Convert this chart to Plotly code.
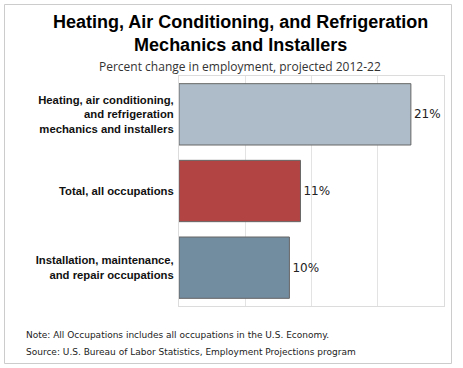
import plotly.graph_objects as go

categories = [
    "Heating, air conditioning,<br>and refrigeration<br>mechanics and installers",
    "Total, all occupations",
    "Installation, maintenance,<br>and repair occupations",
]
values = [21, 11, 10]
value_labels = ["21%", "11%", "10%"]
bar_colors = ["#adbcc8", "#b34444", "#728ca0"]

title_lines = ["Heating, Air Conditioning, and Refrigeration", "Mechanics and Installers"]
subtitle = "Percent change in employment, projected 2012-22"
notes = [
    "Note: All Occupations includes all occupations in the U.S. Economy.",
    "Source: U.S. Bureau of Labor Statistics, Employment Projections program",
]

W, H = 463, 368
L, R, T, B = 179, 19, 76, 62
pw, ph = W - L - R, H - T - B

def px_x(x):
    return (x - L) / pw

def px_y(y):
    return (H - B - y) / ph

fig = go.Figure(
    go.Bar(
        y=categories,
        x=values,
        orientation="h",
        marker=dict(color=bar_colors, line=dict(color="#666666", width=1)),
        width=0.8,
        text=value_labels,
        textposition="outside",
        textfont=dict(family="DejaVu Sans", size=12, color="#222222"),
        cliponaxis=False,
        hoverinfo="skip",
    )
)

fig.update_layout(
    width=W,
    height=H,
    margin=dict(l=L, r=R, t=T, b=B, pad=0),
    paper_bgcolor="white",
    plot_bgcolor="white",
    showlegend=False,
    xaxis=dict(
        range=[0, 24],
        dtick=6,
        showticklabels=False,
        showgrid=True,
        gridcolor="#e3e3e3",
        gridwidth=1,
        zeroline=False,
        showline=True,
        linecolor="#dcdcdc",
        mirror=True,
        fixedrange=True,
    ),
    yaxis=dict(
        autorange="reversed",
        showgrid=False,
        zeroline=False,
        showline=True,
        linecolor="#dcdcdc",
        mirror=True,
        ticks="",
        ticklabelstandoff=2,
        tickfont=dict(family="Liberation Sans", size=11.3, color="#111111", weight="bold"),
        fixedrange=True,
    ),
    font=dict(family="Liberation Sans"),
)

shapes = [
    dict(type="rect", xref="paper", yref="paper",
         x0=px_x(4.5), x1=px_x(451.5), y0=px_y(363.5), y1=px_y(4.5),
         line=dict(color="#cccccc", width=1), fillcolor="rgba(0,0,0,0)", layer="below"),
]
fig.update_layout(shapes=shapes)

ann = []
ann.append(dict(text="<b>" + title_lines[0] + "<br>" + title_lines[1] + "</b>",
                x=px_x(240), y=px_y(34), xref="paper", yref="paper",
                xanchor="center", yanchor="middle", showarrow=False,
                font=dict(family="Liberation Sans", size=18, color="#000000")))
ann.append(dict(text=subtitle, x=px_x(240), y=px_y(66), xref="paper", yref="paper",
                xanchor="center", yanchor="middle", showarrow=False,
                font=dict(family="Open Sans", size=12, color="#333333")))
for i, t in enumerate(notes):
    ann.append(dict(text=t, x=px_x(24), y=px_y(335 + 17 * i), xref="paper", yref="paper",
                    xanchor="left", yanchor="middle", showarrow=False,
                    font=dict(family="DejaVu Sans", size=9.0, color="#222222")))
fig.update_layout(annotations=ann)

fig.write_html(
    "out.html",
    config={"displayModeBar": False, "staticPlot": True},
    post_script="document.body.style.margin='0';document.body.style.overflow='hidden';",
)
